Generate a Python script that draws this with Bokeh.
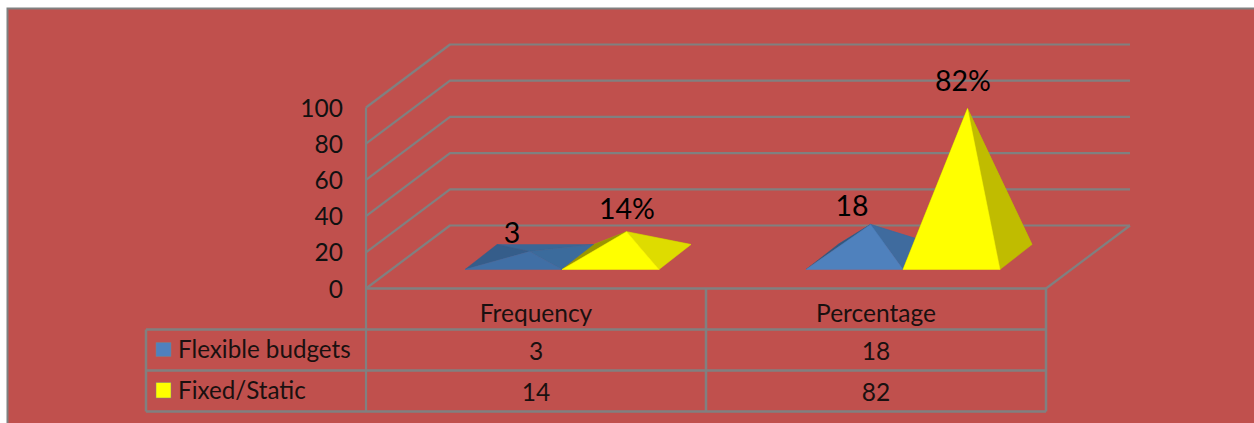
from bokeh.plotting import figure
from bokeh.models import Range1d, ColumnDataSource
from bokeh.core.properties import value
from bokeh.embed import file_html
from bokeh.resources import INLINE

categories = ["Frequency", "Percentage"]
flexible_budgets = [3, 18]
fixed_static = [14, 82]
flexible_labels = ["3", "18"]
fixed_labels = ["14%", "82%"]
y_ticks = [0, 20, 40, 60, 80, 100]
series_names = ["Flexible budgets", "Fixed/Static"]

BG = "#c0504d"
GRAY = "#808080"
FONT = "Lato"
PX = 1.81            # page pixels per value unit
Y0 = 288             # page y of value 0 on the front plane
W, H = 1254, 423
DEPTH_X, DEPTH_Y = 84, 63


def v(py):
    """page y pixel -> value coordinate of the y scale"""
    return (Y0 - py) / PX


p = figure(width=W, height=H, output_backend="svg", toolbar_location=None,
           x_range=Range1d(0.5, W + 0.5), y_range=Range1d(v(H), v(0)),
           background_fill_color="#ffffff", border_fill_color="#ffffff", outline_line_color=None,
           min_border=0)
p.axis.visible = False
p.grid.visible = False

# chart area and its border
p.quad(left=[6.5, 8.5], right=[W + 1, W + 1], top=[v(7), v(9)], bottom=[v(H), v(H)],
       fill_color=[GRAY, BG], line_color=None)

# walls and gridlines
wall_x, wall_y = [], []
for t in y_ticks:
    wall_x.append([366, 366 + DEPTH_X, 1130])
    wall_y.append([t, t + DEPTH_Y / PX, t + DEPTH_Y / PX])
wall_x.append([1046, 1130]); wall_y.append([0, DEPTH_Y / PX])
wall_x.append([366, 366]); wall_y.append([y_ticks[-1], v(411)])
p.multi_line(wall_x, wall_y, line_color=GRAY, line_width=2.2)

# data table lines
row_y = [288, 329, 370, 411]
tx, ty = [[366, 1046]], [[v(288), v(288)]]
for r in row_y[1:]:
    tx.append([146, 1046]); ty.append([v(r), v(r)])
for c, top in [(146, 329), (706, 288), (1046, 288)]:
    tx.append([c, c]); ty.append([v(top), v(411)])
p.multi_line(tx, ty, line_color=GRAY, line_width=2.5)

# pyramids
BASE_W, BASE_DX, BASE_DY = 97, 32, 25
FRONT_Y = 269
group_left = [465, 806]
face_colors = {
    ("flex", 0): dict(back="#3a6695", left="#355d8a", right="#3b6b9c", front="#406fa5"),
    ("flex", 1): dict(back="#3f6b9e", left="#33587f", right="#3f6b9e", front="#4f81bd"),
    ("fix", 0): dict(back="#b8b500", left="#9b9600", right="#dedc00", front="#ffff00"),
    ("fix", 1): dict(back="#b8b500", left="#9b9600", right="#c0bc00", front="#ffff00"),
}


def pyramid(x_left, val, colors):
    fl = (x_left, v(FRONT_Y))
    fr = (x_left + BASE_W, v(FRONT_Y))
    bl = (x_left + BASE_DX, v(FRONT_Y - BASE_DY))
    br = (x_left + BASE_W + BASE_DX, v(FRONT_Y - BASE_DY))
    cx = x_left + (BASE_W + BASE_DX) / 2
    cy = v(FRONT_Y - BASE_DY / 2)
    apex = (cx, cy + val)
    for face, a, b in [("back", bl, br), ("left", fl, bl), ("right", fr, br), ("front", fl, fr)]:
        p.patch([a[0], b[0], apex[0]], [a[1], b[1], apex[1]],
                fill_color=colors[face], line_color=colors[face], line_width=0.5)


for i in range(len(categories)):
    pyramid(group_left[i], flexible_budgets[i], face_colors[("flex", i)])
    pyramid(group_left[i] + BASE_W, fixed_static[i], face_colors[("fix", i)])


def label(xs, ys, texts, size, align="center", color="#000000"):
    src = ColumnDataSource(dict(x=xs, y=ys, t=texts))
    p.text("x", "y", text="t", source=src, text_font=value(FONT), text_font_size=size,
           text_align=align, text_baseline="middle", text_color=color)


# y axis labels
label([343] * len(y_ticks), y_ticks, [str(t) for t in y_ticks], "24.5px", "right", "#111111")

# data labels
label([512, 852], [v(232), v(205)], flexible_labels, "28.5px")
label([627, 963], [v(207), v(79)], fixed_labels, "28.5px")

# table contents
col_x = [536, 876]
label(col_x, [v(311.5)] * 2, categories, "24.5px", "center", "#1a1010")
label(col_x, [v(350)] * 2, [str(a) for a in flexible_budgets], "24.5px", "center", "#1a1010")
label(col_x, [v(391)] * 2, [str(a) for a in fixed_static], "24.5px", "center", "#1a1010")
label([178, 178], [v(348), v(389)], series_names, "24.2px", "left", "#1a1010")

# legend keys
p.quad(left=[156, 156], right=[171, 171], top=[v(342), v(382)], bottom=[v(356), v(397.5)],
       fill_color=["#4f81bd", "#ffff00"], line_color=[GRAY, GRAY], line_width=0.5)

open("out.html", "w").write(file_html(p, INLINE))
